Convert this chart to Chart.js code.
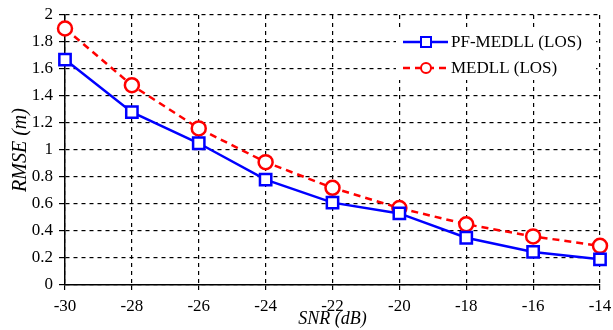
<!DOCTYPE html>
<html><head><meta charset="utf-8">
<script src="https://cdn.jsdelivr.net/npm/chart.js@4/dist/chart.umd.min.js"></script>
<style>html,body{margin:0;padding:0;background:#fff}#w{width:613px;height:330px}</style>
</head><body><div id="w"><canvas id="c"></canvas></div>
<script>
const snr = [-30, -28, -26, -24, -22, -20, -18, -16, -14];
const pfMedll = [1.67, 1.28, 1.05, 0.78, 0.61, 0.53, 0.35, 0.245, 0.19];
const medll = [1.90, 1.48, 1.16, 0.91, 0.72, 0.57, 0.45, 0.36, 0.29];
const seriesNames = ['PF-MEDLL (LOS)', 'MEDLL (LOS)'];
const yTicks = [0, 0.2, 0.4, 0.6, 0.8, 1, 1.2, 1.4, 1.6, 1.8, 2];

const FONT = "'Liberation Serif', 'Times New Roman', serif";

const legendPlugin = {
  id: 'boxLegend',
  afterDatasetsDraw(chart) {
    const ctx = chart.ctx;
    const x0 = 396, y0 = 28, w = 200, h = 52;
    ctx.save();
    ctx.fillStyle = '#fff';
    ctx.fillRect(x0, y0, w, h);
    chart.data.datasets.forEach((ds, i) => {
      const cy = y0 + 14 + i * 26;
      ctx.strokeStyle = ds.borderColor;
      ctx.lineWidth = 2.5;
      ctx.setLineDash(ds.borderDash || []);
      ctx.beginPath(); ctx.moveTo(x0 + 7, cy); ctx.lineTo(x0 + 52, cy); ctx.stroke();
      ctx.setLineDash([]);
      ctx.fillStyle = '#fff';
      ctx.lineWidth = 2;
      const cx = x0 + 30;
      if (ds.pointStyle === 'rect') {
        ctx.fillRect(cx - 5, cy - 5, 10, 10);
        ctx.strokeRect(cx - 5, cy - 5, 10, 10);
      } else {
        ctx.beginPath(); ctx.arc(cx, cy, 5, 0, Math.PI * 2); ctx.fill(); ctx.stroke();
      }
      ctx.fillStyle = '#000';
      ctx.font = "17px " + FONT;
      ctx.textBaseline = 'middle';
      ctx.fillText(ds.label, x0 + 55, cy + 1);
    });
    ctx.restore();
  }
};

new Chart(document.getElementById('c'), {
  type: 'line',
  data: {
    datasets: [
      {
        label: seriesNames[0],
        data: snr.map((x, i) => ({x, y: pfMedll[i]})),
        borderColor: '#0000ff', backgroundColor: '#fff',
        borderWidth: 2.5, pointStyle: 'rect', pointRadius: 8, pointBorderWidth: 2.5,
        pointBackgroundColor: '#fff', tension: 0, clip: false
      },
      {
        label: seriesNames[1],
        data: snr.map((x, i) => ({x, y: medll[i]})),
        borderColor: '#ff0000', backgroundColor: '#fff',
        borderWidth: 2.5, borderDash: [7, 5], pointStyle: 'circle', pointRadius: 7, pointBorderWidth: 2.5,
        pointBackgroundColor: '#fff', tension: 0, clip: false
      }
    ]
  },
  options: {
    responsive: true, maintainAspectRatio: false, animation: false,
    layout: { padding: { left: 9, right: 0, top: 15, bottom: 0 } },
    plugins: { legend: { display: false }, tooltip: { enabled: false } },
    scales: {
      x: {
        type: 'linear', min: -30, max: -14,
        afterBuildTicks(s) { s.ticks = snr.map(v => ({value: v})); },
        afterFit(s) { s.height = 45; s.paddingRight = 13; s.paddingLeft = 0; },
        ticks: { color: '#000', font: { family: FONT, size: 17 }, padding: 6, maxRotation: 0 },
        grid: { color: '#000', lineWidth: 1.2, tickLength: 5, tickColor: '#000' },
        border: { display: true, color: '#000', width: 1.5, dash: [4, 4] },
        title: { display: true, text: 'SNR (dB)', color: '#000', font: { family: FONT, size: 18, style: 'italic' }, padding: { top: 0, bottom: 0 } }
      },
      y: {
        type: 'linear', min: 0, max: 2,
        afterBuildTicks(s) { s.ticks = yTicks.map(v => ({value: v})); },
        afterFit(s) { s.width = 56; s.paddingTop = 0; s.paddingBottom = 0; },
        ticks: { color: '#000', font: { family: FONT, size: 17 }, padding: 6,
          callback: v => String(Math.round(v * 10) / 10) },
        grid: { color: '#000', lineWidth: 1.2, tickLength: 6, tickColor: '#000' },
        border: { display: true, color: '#000', width: 1.5, dash: [4, 4] },
        title: { display: true, text: 'RMSE (m)', color: '#000', font: { family: FONT, size: 20, style: 'italic' }, padding: { top: 0, bottom: 2 } }
      }
    }
  },
  plugins: [legendPlugin]
});
</script>
</body></html>
